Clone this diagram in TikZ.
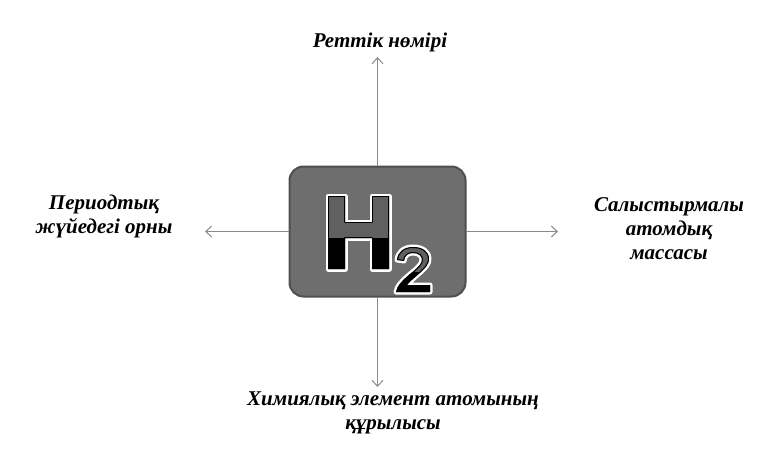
\documentclass[tikz,border=0pt]{standalone}
\usepackage{fontspec}
\setmainfont{Liberation Serif}
\usepackage{tikz}
\usepackage{xcolor}
\usetikzlibrary{arrows.meta}
\definecolor{box-gray}{HTML}{6E6E6E}
\definecolor{box-edge}{HTML}{4F4F4F}
\definecolor{glyph-gray}{HTML}{606060}
\definecolor{line-gray}{HTML}{8A8A8A}
\def\hglyph{(328,196) -- (345,196) -- (345,222) -- (372,222) -- (372,196) -- (389,196) -- (389,269) -- (372,269) -- (372,238) -- (345,238) -- (345,269) -- (328,269) -- cycle}
\def\twoglyph{(0,0) -- (34,0) -- (34,7) -- (11,7) .. controls (13,10) and (17,13) .. (22,17.5) .. controls (30,24.5) and (33,28) .. (33,33) .. controls (33,40.5) and (26.5,45) .. (17,45) .. controls (7.5,45) and (1.5,39.5) .. (1,32) -- (8,31) .. controls (8.5,36.5) and (12,39) .. (17,39) .. controls (22.5,39) and (26,36) .. (26,32.5) .. controls (26,28.5) and (22.5,25) .. (16.5,20) .. controls (6,11.5) and (1,6) .. (0,0) -- cycle}
\tikzset{
    elem-box/.style = {draw=box-edge, fill=box-gray, line width=2pt, rectangle, rounded corners=14pt, minimum width=176pt, minimum height=130pt, inner sep=0pt},
    label-text/.style = {font=\fontsize{21}{24}\selectfont\bfseries\itshape, align=center, text=black},
    arr/.style = {draw=line-gray, line width=1pt, -{Straight Barb[length=6pt,width=11pt]}},
    glyph-halo/.style = {draw=white, line width=5pt, line join=round},
    glyph-rim/.style = {draw=black, line width=2pt, line join=round},
}

\begin{document}
\begin{tikzpicture}[x=1pt,y=-1pt]
\useasboundingbox (0,0) rectangle (780,459);
\node[elem-box] (elem) at (377.5,231.5) {};
\node[label-text] (num) at (380,42) {Реттік нөмірі};
\node[label-text] (place) at (104,216) {Периодтық\\жүйедегі орны};
\node[label-text] (mass) at (669,229) {Салыстырмалы\\атомдық\\массасы};
\node[label-text] (build) at (393,413) {Химиялық элемент атомының\\құрылысы};
\coordinate (num-tip) at (377.5,57);
\coordinate (place-tip) at (205,231.5);
\coordinate (mass-tip) at (558,231.5);
\coordinate (build-tip) at (377.5,387);
\draw[arr] (elem.north) -- (num-tip);
\draw[arr] (elem.west) -- (place-tip);
\draw[arr] (elem.east) -- (mass-tip);
\draw[arr] (elem.south) -- (build-tip);
\path[glyph-halo] \hglyph;
\begin{scope}
\clip \hglyph;
\fill[glyph-gray] (320,190) rectangle (395,238);
\fill[black] (320,238) rectangle (395,275);
\path[glyph-rim] \hglyph;
\end{scope}
\begin{scope}[shift={(396,292)}, yscale=-1]
\path[glyph-halo] \twoglyph;
\begin{scope}
\clip \twoglyph;
\fill[glyph-gray] (-5,20) rectangle (40,50);
\fill[black] (-5,-5) rectangle (40,20);
\path[glyph-rim] \twoglyph;
\end{scope}
\end{scope}
\end{tikzpicture}
\end{document}
